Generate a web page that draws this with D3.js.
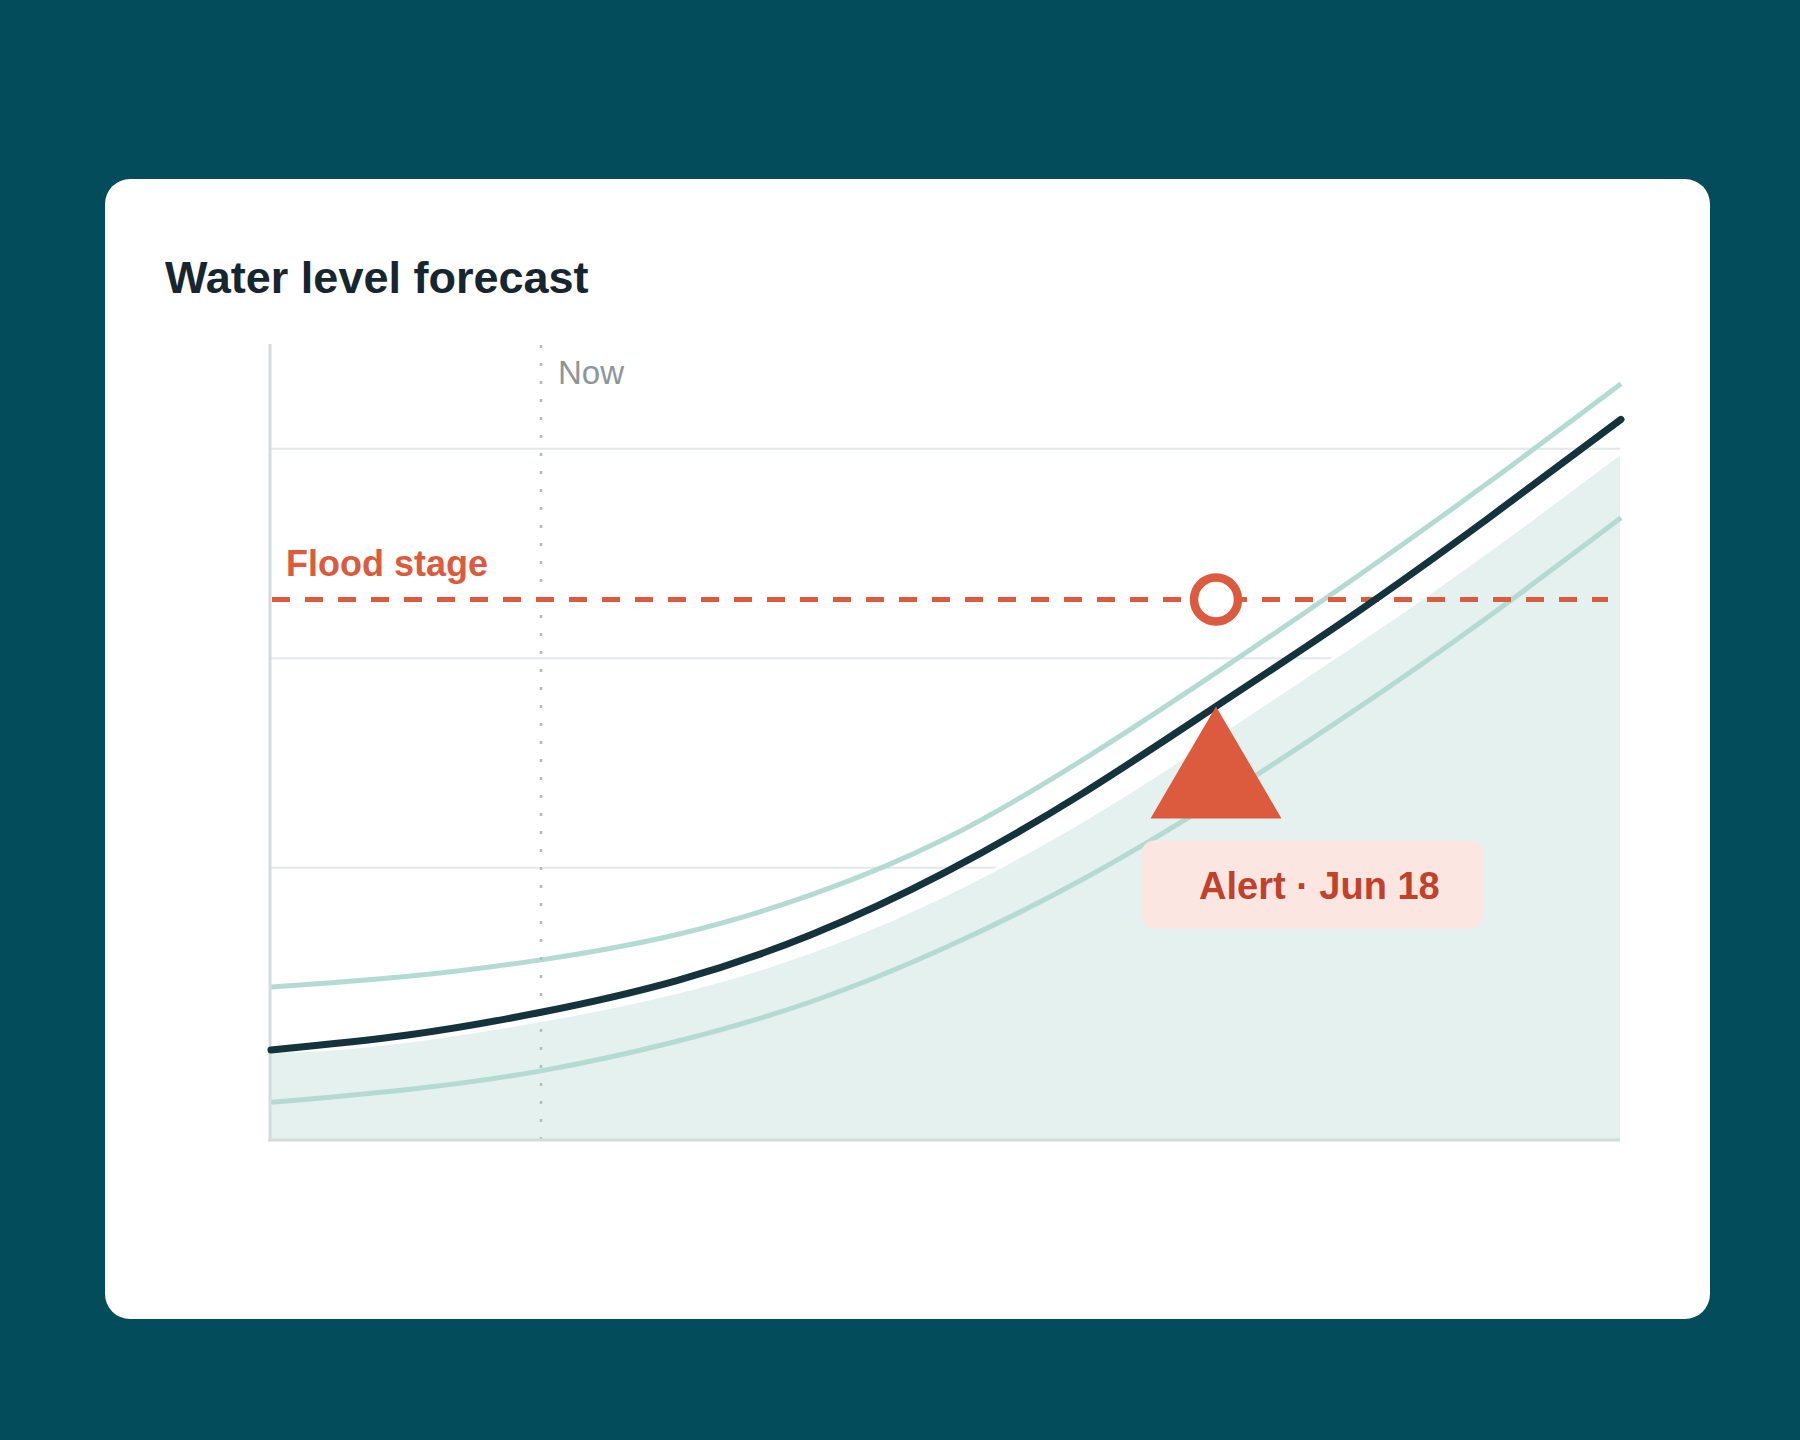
<!DOCTYPE html>
<html>
<head>
<meta charset="utf-8">
<script src="https://cdn.jsdelivr.net/npm/d3@7"></script>
<style>
  html, body { margin: 0; padding: 0; background: #024c5b; }
  svg { display: block; }
  text { font-family: "Liberation Sans", Arial, Helvetica, sans-serif; }
</style>
</head>
<body>
<svg id="chart" width="1800" height="1440"></svg>
<script>
// ---- data ----
const days      = [0, 3, 6, 9, 12, 15, 18, 21, 24, 27, 30];
const forecast  = [1.13, 1.20, 1.31, 1.46, 1.68, 1.98, 2.35, 2.77, 3.20, 3.66, 4.14];
const upperBand = [1.43, 1.48, 1.56, 1.68, 1.87, 2.14, 2.51, 2.93, 3.37, 3.83, 4.31];
const lowerBand = [0.88, 0.94, 1.03, 1.17, 1.36, 1.62, 1.94, 2.32, 2.74, 3.19, 3.67];
const gridValues = [1, 2, 3, 4];
const floodStage = 3.28;
const nowDay = 6;
const alertDay = 21;
const alertIndex = 7;
const fillLagDays = 1;
const titleText = "Water level forecast";
const nowLabel = "Now";
const floodLabel = "Flood stage";
const alertLabel = "Alert · Jun 18";

// ---- layout ----
const svg = d3.select("#chart");
const W = 1800, H = 1440;
const plot = { left: 270, right: 1620, top: 344, bottom: 1140 };

svg.append("rect").attr("width", W).attr("height", H).attr("fill", "#024c5b");
svg.append("rect").attr("x", 105).attr("y", 179).attr("width", 1605).attr("height", 1140)
  .attr("rx", 25).attr("fill", "#ffffff");

svg.append("text").attr("x", 165).attr("y", 293).text(titleText)
  .attr("font-size", 45).attr("font-weight", 700).attr("fill", "#17262e");

const x = d3.scaleLinear().domain([0, 30]).range([plot.left + 1, plot.right + 1]);
const y = d3.scaleLinear().domain([0.7, 4.5]).range([plot.bottom, plot.top]);

const pts = (vals) => days.map((d, i) => ({ d, v: vals[i] }));
const fc = pts(forecast), up = pts(upperBand), lo = pts(lowerBand);
const curve = d3.curveNatural;

const defs = svg.append("defs");
defs.append("clipPath").attr("id", "plotclip").append("rect")
  .attr("x", plot.left).attr("y", plot.top)
  .attr("width", plot.right - plot.left).attr("height", plot.bottom - plot.top);

// gridlines
svg.append("g").selectAll("line").data(gridValues).join("line")
  .attr("x1", plot.left).attr("x2", plot.right)
  .attr("y1", d => y(d)).attr("y2", d => y(d))
  .attr("stroke", "#e4e8e9").attr("stroke-width", 2);

// observed fill (forecast lagged by one day)
const fillData = [{ d: -2, v: forecast[0] }].concat(fc.map(p => ({ d: p.d + fillLagDays, v: p.v })));
const area = d3.area().x(p => x(p.d)).y0(plot.bottom).y1(p => y(p.v)).curve(curve);
const fillLine = d3.line().x(p => x(p.d)).y(p => y(p.v)).curve(curve);
const gClip = svg.append("g").attr("clip-path", "url(#plotclip)");
gClip.append("path").datum(fillData).attr("d", area).attr("fill", "#e5f1ee");
gClip.append("path").datum(fillData).attr("d", fillLine).attr("fill", "none")
  .attr("stroke", "#ffffff").attr("stroke-width", 3);

// band lines
const line = d3.line().x(p => x(p.d)).y(p => y(p.v)).curve(curve);
svg.append("path").datum(up).attr("d", line).attr("fill", "none")
  .attr("stroke", "#b4dbd2").attr("stroke-width", 5);
svg.append("path").datum(lo).attr("d", line).attr("fill", "none")
  .attr("stroke", "#b4dbd2").attr("stroke-width", 5);

// now line
svg.append("line").attr("x1", x(nowDay)).attr("x2", x(nowDay))
  .attr("y1", plot.top + 1).attr("y2", plot.bottom)
  .attr("stroke", "#b3bbbd").attr("stroke-width", 2.5).attr("stroke-dasharray", "3 15");
svg.append("text").attr("x", x(nowDay) + 17).attr("y", 384).text(nowLabel)
  .attr("font-size", 33).attr("fill", "#8b979a");

// axes
svg.append("line").attr("x1", plot.left).attr("x2", plot.left)
  .attr("y1", plot.top).attr("y2", plot.bottom + 1.5)
  .attr("stroke", "#d3dcdc").attr("stroke-width", 3);
svg.append("line").attr("x1", plot.left - 1.5).attr("x2", plot.right)
  .attr("y1", plot.bottom).attr("y2", plot.bottom)
  .attr("stroke", "#d3dcdc").attr("stroke-width", 3);

// flood stage
svg.append("line").attr("x1", plot.left + 2).attr("x2", plot.right - 12)
  .attr("y1", y(floodStage)).attr("y2", y(floodStage))
  .attr("stroke", "#dc5b3e").attr("stroke-width", 5).attr("stroke-dasharray", "18 15");
svg.append("text").attr("x", 286).attr("y", y(floodStage) - 24).text(floodLabel)
  .attr("font-size", 36).attr("font-weight", 700).attr("fill", "#dc5b3e");

// main forecast line
svg.append("path").datum(fc).attr("d", line).attr("fill", "none")
  .attr("stroke", "#15333d").attr("stroke-width", 7).attr("stroke-linecap", "round");

// crossing marker
svg.append("circle").attr("cx", x(alertDay)).attr("cy", y(floodStage)).attr("r", 22)
  .attr("fill", "#ffffff").attr("stroke", "#dc5b3e").attr("stroke-width", 8.5);

// alert triangle
const ax = x(alertDay), ay = y(forecast[alertIndex]);
svg.append("path")
  .attr("d", `M${ax},${ay} L${ax + 65.5},${ay + 112} L${ax - 65.5},${ay + 112} Z`)
  .attr("fill", "#dc5b3e");

// alert label
const boxX = ax - 74, boxY = ay + 134;
svg.append("rect").attr("x", boxX).attr("y", boxY).attr("width", 341).attr("height", 88)
  .attr("rx", 12).attr("fill", "#fce6e1");
svg.append("text").attr("x", boxX + 57).attr("y", boxY + 59).text(alertLabel)
  .attr("font-size", 38).attr("font-weight", 700).attr("fill", "#c1412a");
</script>
</body>
</html>
